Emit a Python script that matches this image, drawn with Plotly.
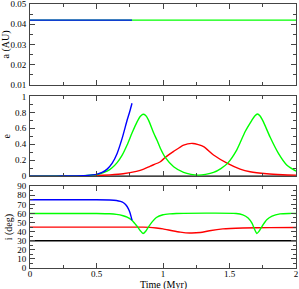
import plotly.graph_objects as go

# ---------------- data ----------------
t_span = [0.0, 2.0]
a_const = [0.042, 0.042]
t_blue_a = [0.0, 0.767]

# eccentricity
t_blue_e = [0.0, 0.2, 0.3, 0.4, 0.43, 0.47, 0.505, 0.542, 0.58, 0.617, 0.655, 0.692, 0.73, 0.75, 0.767]
e_blue = [0.0, 0.0005, 0.002, 0.005, 0.008, 0.015, 0.025, 0.046, 0.088, 0.16, 0.285, 0.47, 0.70, 0.81, 0.914]

t_green_e = [0.0, 0.3, 0.4, 0.45, 0.505, 0.542, 0.58, 0.617, 0.655, 0.692, 0.73, 0.767, 0.805, 0.83, 0.85,
             0.87, 0.892, 0.93, 0.955, 0.98, 1.017, 1.08, 1.155, 1.21, 1.267, 1.32, 1.38, 1.435, 1.485, 1.555,
             1.618, 1.668, 1.69, 1.71, 1.73, 1.755, 1.805, 1.868, 1.93, 2.0]
e_green = [0.0, 0.002, 0.006, 0.011, 0.02, 0.038, 0.063, 0.105, 0.17, 0.26, 0.39, 0.54, 0.68, 0.75, 0.776,
           0.76, 0.70, 0.54, 0.45, 0.35, 0.235, 0.117, 0.046, 0.022, 0.013, 0.022, 0.046, 0.095, 0.16, 0.33,
           0.56, 0.70, 0.755, 0.78, 0.755, 0.68, 0.49, 0.285, 0.14, 0.063]

t_red_e = [0.0, 0.3, 0.4, 0.5, 0.6, 0.7, 0.8, 0.855, 0.905, 0.98, 1.017, 1.08, 1.155, 1.225, 1.305,
           1.38, 1.485, 1.58, 1.655, 1.78, 1.9, 2.0]
e_red = [0.0, 0.001, 0.004, 0.008, 0.016, 0.03, 0.06, 0.088, 0.126, 0.18, 0.235, 0.31, 0.39, 0.41, 0.37,
         0.265, 0.16, 0.088, 0.055, 0.03, 0.018, 0.013]

e_black = [0.0, 0.0]

# inclination (deg)
t_blue_i = [0.0, 0.5, 0.6, 0.65, 0.68, 0.7, 0.72, 0.74, 0.75, 0.76, 0.767]
i_blue = [75, 75, 74.8, 74.3, 73.3, 72, 69.5, 65, 61.5, 56.5, 52.5]

t_green_i = [0.0, 0.5, 0.6, 0.65, 0.7, 0.73, 0.767, 0.79, 0.81, 0.83, 0.85, 0.87, 0.89, 0.92, 0.95,
             1.0, 1.05, 1.1, 1.55, 1.6, 1.64, 1.67, 1.69, 1.705, 1.72, 1.75, 1.78, 1.82, 1.88, 1.95, 2.0]
i_green = [60, 60, 59.7, 59, 57.5, 56, 52.5, 48.5, 45, 41, 38, 40.5, 45, 51, 55.5,
           58.5, 59.5, 60, 60, 58.5, 55, 49, 42, 38, 40, 47, 53, 57, 59.5, 60, 60]

t_red_i = [0.0, 0.85, 0.9, 0.95, 1.0, 1.07, 1.13, 1.2, 1.28, 1.35, 1.45, 1.6, 1.8, 2.0]
i_red = [45, 45, 44.7, 44, 43, 41, 39.5, 38.5, 39, 41, 43, 44, 44.4, 44.5]

i_black = [30, 30]

x_ticks = [0, 0.5, 1, 1.5, 2]
x_tick_text = ["0", "0.5", "1", "1.5", "2"]
x_title = "Time (Myr)"

BLUE, GREEN, RED, BLACK = "#0000ff", "#00ff00", "#ff0000", "#000000"
LW = 1.4

fig = go.Figure()

def add(x, y, color, ax):
    fig.add_trace(go.Scatter(x=x, y=y, mode="lines",
                             line=dict(color=color, width=LW, shape="spline", smoothing=0.6),
                             xaxis="x" + ax, yaxis="y" + ax, showlegend=False, hoverinfo="skip"))

# panel 1 (top)
add(t_span, a_const, GREEN, "")
add(t_blue_a, a_const, BLUE, "")

# panel 2
add(t_span, e_black, BLACK, "2")
add(t_red_e, e_red, RED, "2")
add(t_green_e, e_green, GREEN, "2")
add(t_blue_e, e_blue, BLUE, "2")

# panel 3
add(t_span, i_black, BLACK, "3")
add(t_red_i, i_red, RED, "3")
add(t_green_i, i_green, GREEN, "3")
add(t_blue_i, i_blue, BLUE, "3")

FONT = dict(family="Liberation Serif", size=9, color="black")
TFONT = dict(family="Liberation Serif", size=10, color="black")
AX = "#444"

def xax(anchor, labels):
    return dict(range=[0, 2], anchor=anchor, tickmode="array", tickvals=x_ticks, ticktext=x_tick_text,
                showticklabels=labels, ticks="inside", ticklen=5, tickwidth=1, tickcolor=AX,
                minor=dict(dtick=0.25, ticks="inside", ticklen=3, tickcolor=AX),
                showline=True, linecolor=AX, linewidth=1, mirror="ticks",
                showgrid=False, zeroline=False, tickfont=FONT, automargin=False,
                ticklabeloverflow="allow", ticklabelstandoff=-3)

def yax(anchor, rng, dtick, minor, domain, title, standoff, fmt=None):
    d = dict(range=rng, anchor=anchor, domain=domain, dtick=dtick, tick0=rng[0],
             ticks="inside", ticklen=5, tickwidth=1, tickcolor=AX,
             minor=dict(dtick=minor, ticks="inside", ticklen=3, tickcolor=AX),
             showline=True, linecolor=AX, linewidth=1, mirror="ticks",
             showgrid=False, zeroline=False, tickfont=FONT, automargin=False,
             ticklabeloverflow="allow", ticklabelstandoff=1,
             title=dict(text=title, font=TFONT, standoff=standoff))
    if fmt:
        d["tickformat"] = fmt
    return d

fig.update_layout(
    width=299, height=289,
    margin=dict(l=30, r=3, t=4, b=21),
    paper_bgcolor="white", plot_bgcolor="white",
    font=FONT,
    xaxis=xax("y", False),
    xaxis2=xax("y2", False),
    xaxis3=xax("y3", True),
    yaxis=yax("x", [0.01, 0.05], 0.01, 0.005, [0.694, 1.0], "a (AU)", 2, ".2f"),
    yaxis2=yax("x2", [0, 1], 0.2, 0.1, [0.348, 0.65], "e", 2),
    yaxis3=yax("x3", [0, 90], 10, 5, [0.0, 0.31], "i (deg)", 2),
    annotations=[dict(text=x_title, xref="paper", yref="paper", x=0.5, y=-0.064,
                      xanchor="center", yanchor="middle", showarrow=False, font=TFONT, borderpad=0)],
)

fig.write_html("out.html", config={"displayModeBar": False},
               post_script="document.body.style.margin='0';document.body.style.overflow='hidden';")
